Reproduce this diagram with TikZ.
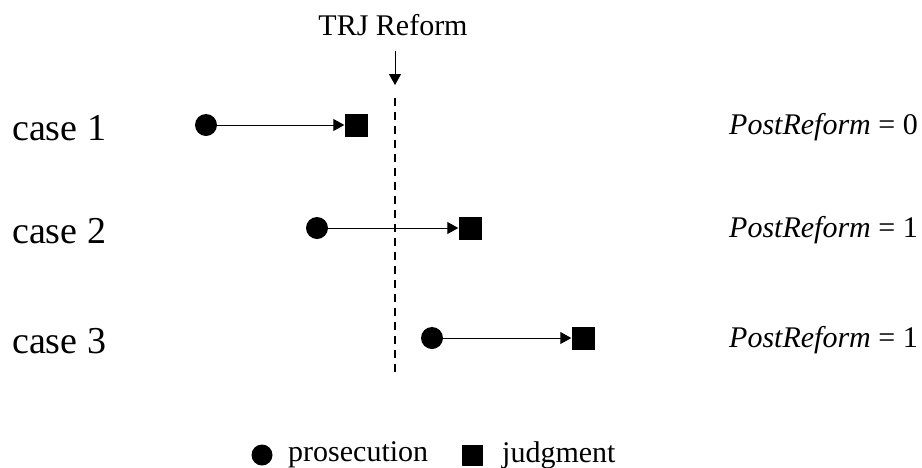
\documentclass[tikz,border=0pt]{standalone}
\usepackage{fontspec}
\setmainfont{Liberation Serif}
\usetikzlibrary{calc, arrows.meta}

\begin{document}
\begin{tikzpicture}[x=1pt, y=-1pt,
		event/.style = {circle, fill, inner sep = 0pt, minimum size = 22pt},
		verdict/.style = {rectangle, fill, inner sep = 0pt, minimum size = 23pt},
		span/.style = {-{Triangle[length = 11pt, width = 12pt]}, line width = 1pt},
		label/.style = {inner sep = 0pt, font = \fontsize{30}{33}\selectfont}]
		\def\casefont{\fontsize{38}{42}\selectfont}
		\def\xr{395}
		
		\useasboundingbox (0,0) rectangle (922,467);
		
		% reform date
		\node [label, anchor = base] (reform) at (393,35) {TRJ Reform};
		\coordinate (reform arrow) at (\xr,51);
		\coordinate (reform top) at (\xr,98);
		\coordinate (reform bottom) at (\xr,372);
		\draw [span] (reform arrow) -- ++(0,34);
		\draw [dash pattern = on 8pt off 6pt, line width = 1.1pt] (reform top) -- (reform bottom);
		
		% cases
		\foreach \n/\y/\xp/\xj/\v in {1/125/206/356/0, 2/228/317/470/1, 3/338/432/583/1}
		{
			\node [inner sep = 0pt, anchor = west] (case\n) at (12,\y+3) {\casefont case \n};
			\node [event] (p\n) at (\xp,\y) {};
			\node [verdict] (j\n) at (\xj,\y) {};
			\draw [span] (p\n) -- (j\n);
			\node [label, anchor = east] (post\n) at (918,\y+2) {\textit{PostReform} = \v};
		}
		
		% legend
		\node [event, minimum size = 21pt] (key p) at (262,455) {};
		\node [label, anchor = west] (key p text) at (288,455) {prosecution};
		\node [verdict, minimum size = 21pt] (key j) at (472,455) {};
		\node [label, anchor = west] (key j text) at (502,455) {judgment};
	\end{tikzpicture}
\end{document}
